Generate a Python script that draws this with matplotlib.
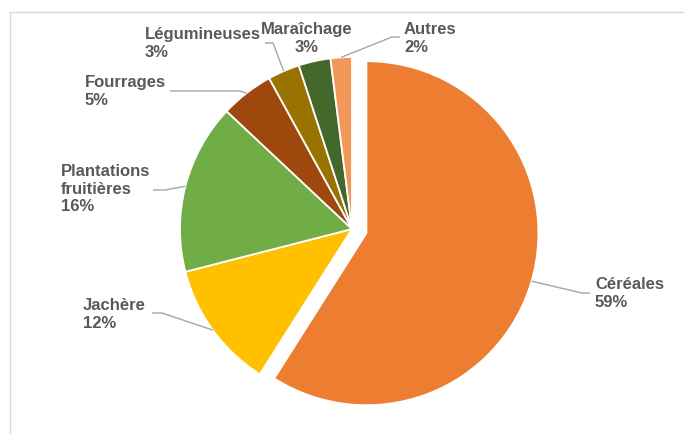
import matplotlib.pyplot as plt
import numpy as np
from matplotlib.lines import Line2D

# surfaces agricoles par type de culture (%)
categories = ["Céréales", "Jachère", "Plantations\nfruitières", "Fourrages",
              "Légumineuses", "Maraîchage", "Autres"]
shares = [59, 12, 16, 5, 3, 3, 2]
colors = ["#ED7D31", "#FFC000", "#70AD47", "#9E480E", "#997300", "#43682B", "#F1975A"]

W, H = 684, 434

def px(x, y):
    # pixel coords (y down) -> axes data coords (y up)
    return x, H - y

fig = plt.figure(figsize=(W / 100, H / 100), dpi=100)
ax = fig.add_axes([0, 0, 1, 1])

R = 172
cx, cy = px(352, 229)
wedges, _ = ax.pie(shares, colors=colors, startangle=90, counterclock=False,
                   radius=R, center=(cx, cy),
                   wedgeprops=dict(edgecolor="white", linewidth=1.3))

# pull the Céréales slice out
w0 = wedges[0]
tm = np.deg2rad((w0.theta1 + w0.theta2) / 2)
d = 15
w0.set_center((cx + d * np.cos(tm), cy + d * np.sin(tm)))

ax.set_xlim(0, W)
ax.set_ylim(0, H)
ax.set_aspect("equal")
ax.axis("off")

# label boxes: (x, y top) in pixels, alignment
label_pos = [(595, 277, "left"), (83, 298, "left"), (61, 164, "left"),
             (85, 75, "left"), (145, 27, "left"), (307, 22, "center"),
             (404, 22, "left")]
# leader line elbows (pixels), None -> no leader
leaders = [[(582, 293), (590, 293)], [(162, 313), (152, 313)],
           [(165, 190), (153, 190)], [(240, 91), (170, 91)],
           [(273, 43), (265, 43)], None, [(392, 37), (400, 37)]]

for w, cat, val, (lx, ly, ha), lead in zip(wedges, categories, shares, label_pos, leaders):
    ax.text(*px(lx, ly), f"{cat}\n{val}%", ha=ha, va="top", fontsize=12,
            fontweight="bold", color="#595959", family="Liberation Sans",
            linespacing=1.22, multialignment=ha)
    if lead is None:
        continue
    t = np.deg2rad((w.theta1 + w.theta2) / 2)
    x0 = w.center[0] + w.r * np.cos(t)
    y0 = w.center[1] + w.r * np.sin(t)
    xs = [x0] + [p[0] for p in lead]
    ys = [y0] + [H - p[1] for p in lead]
    ax.plot(xs, ys, color="#A6A6A6", lw=1, solid_capstyle="butt")

# chart area border
fig.add_artist(Line2D([10 / W, 1], [1 - 12 / H, 1 - 12 / H], color="#D9D9D9", lw=1))
fig.add_artist(Line2D([10 / W, 10 / W], [0, 1 - 12 / H], color="#D9D9D9", lw=1))

fig.savefig("out.png", dpi=100)
